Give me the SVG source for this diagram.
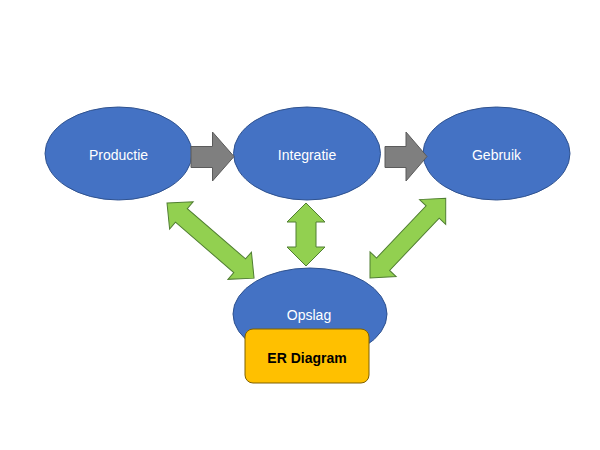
<svg xmlns="http://www.w3.org/2000/svg" width="600" height="450" viewBox="0 0 600 450">
<style>
.node ellipse{fill:#4472c4;stroke:#2f528f;stroke-width:1}
.lbl{font-family:"Liberation Sans",Arial,sans-serif;font-size:14px;fill:#ffffff;text-anchor:middle}
.er{font-family:"Liberation Sans",Arial,sans-serif;font-size:14px;font-weight:bold;fill:#000000;text-anchor:middle}
.gray{fill:#7f7f7f;stroke:#5b5b5b;stroke-width:1}
.green{fill:#92d050;stroke:#507e32;stroke-width:1}
</style>
<defs>
<path id="dbl63" d="M0,0 L19,-19 L19,-10 L44,-10 L44,-19 L63,0 L44,19 L44,10 L19,10 L19,19 Z"/>
<path id="dbl115" d="M0,0 L19,-18 L19,-9 L96,-9 L96,-18 L115,0 L96,18 L96,9 L19,9 L19,18 Z"/>
<path id="dbl110" d="M0,0 L19,-18 L19,-9 L91,-9 L91,-18 L110,0 L91,18 L91,9 L19,9 L19,18 Z"/>
</defs>
<rect width="600" height="450" fill="#ffffff"/>
<g id="productie" class="node">
<ellipse cx="118.5" cy="153.5" rx="73.5" ry="46.5"/>
<text class="lbl" x="118.5" y="160">Productie</text>
</g>
<g id="integratie" class="node">
<ellipse cx="307" cy="153.5" rx="73.5" ry="46.5"/>
<text class="lbl" x="307" y="160">Integratie</text>
</g>
<g id="gebruik" class="node">
<ellipse cx="496.5" cy="153.5" rx="73.5" ry="46.5"/>
<text class="lbl" x="496.5" y="160">Gebruik</text>
</g>
<g id="opslag" class="node">
<ellipse cx="310" cy="314" rx="77" ry="46"/>
<text class="lbl" x="309" y="320">Opslag</text>
</g>
<g id="er-diagram" class="node">
<rect x="245" y="329" width="124" height="54" rx="8" ry="8" fill="#ffc000" stroke="#7f6000" stroke-width="1"/>
<text class="er" x="307" y="363">ER Diagram</text>
</g>
<g id="connectors">
<path class="gray" d="M191,146.5 L212.5,146.5 L212.5,132 L234,156.5 L212.5,181 L212.5,167.5 L191,167.5 Z"/>
<path class="gray" d="M385,146.5 L406,146.5 L406,132 L427,156.5 L406,181 L406,167.5 L385,167.5 Z"/>
<use href="#dbl63" class="green" transform="translate(306,203) rotate(90)"/>
<use href="#dbl115" class="green" transform="translate(167,203) rotate(40.8)"/>
<use href="#dbl110" class="green" transform="translate(370,278) rotate(-46.5)"/>
</g>
</svg>
